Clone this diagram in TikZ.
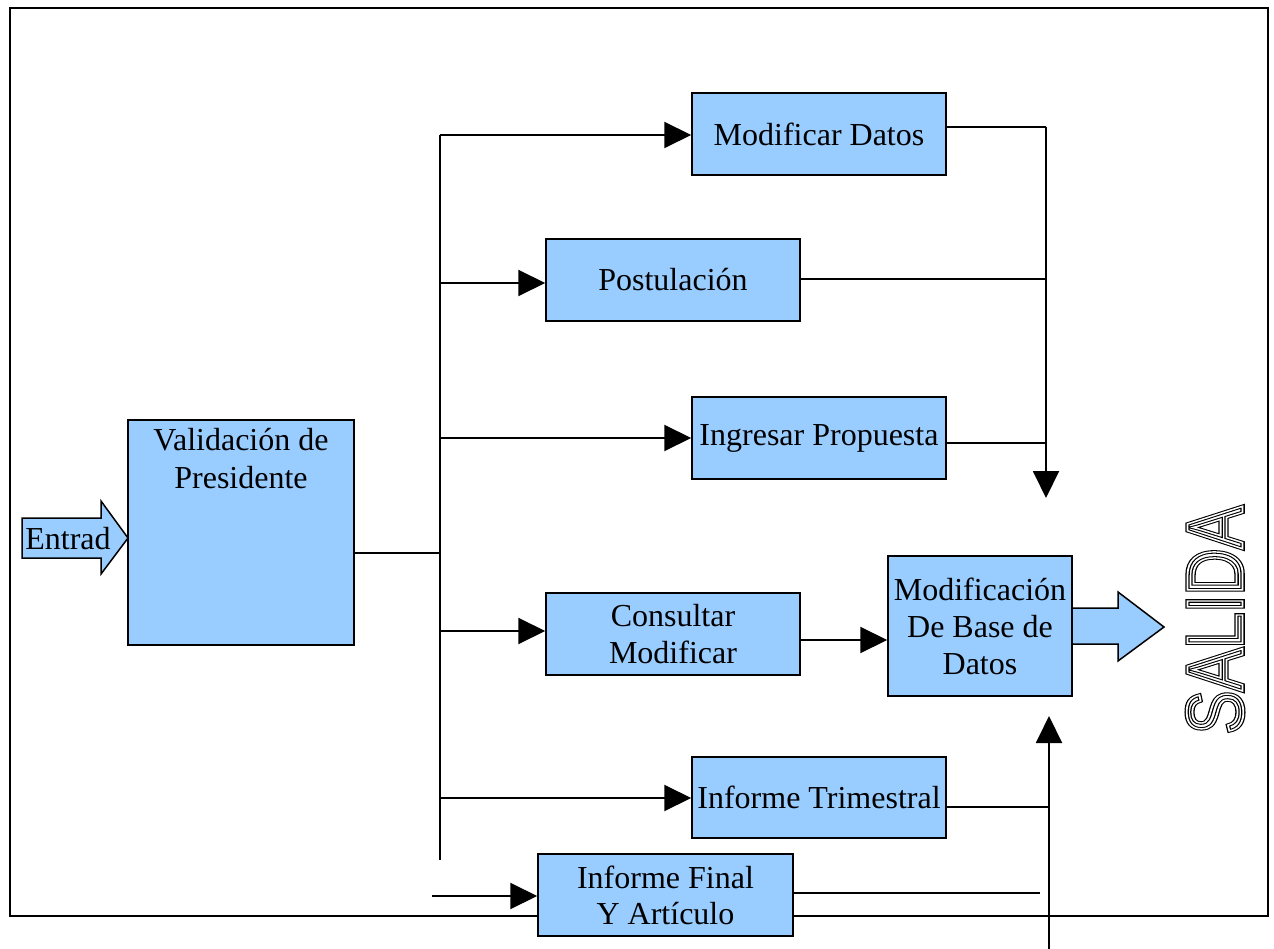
\documentclass[tikz,border=0pt]{standalone}
\usepackage{fontspec}
\setmainfont{Liberation Serif}
\setsansfont{Liberation Sans}
\usetikzlibrary{arrows.meta}
\definecolor{boxblue}{HTML}{99CCFF}
\tikzset{
  blk/.style={draw=black, fill=boxblue, line width=1.5pt, inner sep=0pt,
    align=center, font=\fontsize{32}{37}\selectfont},
  wire/.style={line width=2pt},
  arr/.style={wire, -{Triangle[length=27pt,width=26pt]}},
  fat/.style={draw=black, fill=boxblue, line width=1.5pt, line join=miter},
}
% outlined lettering: stroke only, given width
\newcommand{\strokedtext}[2]{\special{pdf:literal direct 1 Tr #1 w}#2\special{pdf:literal direct 0 Tr}}
\begin{document}
\begin{tikzpicture}[x=1pt, y=-1pt]
\useasboundingbox (0,0) rectangle (1274,949);
% outer frame
\draw[line width=1.5pt] (10,8) rectangle (1268,916);

% entry arrow
\filldraw[fat] (22,518) -- (101,518) -- (101,501) -- (128,538) -- (101,574)
  -- (101,558) -- (22,558) -- cycle;
\node[font=\fontsize{32}{37}\selectfont] (entrada) at (68,539) {Entrad};

% output arrow (drawn before the box it leaves)
\filldraw[fat] (1070,608) -- (1118,608) -- (1118,592) -- (1164,627) -- (1118,661)
  -- (1118,644) -- (1070,644) -- cycle;

% boxes
\node[blk, minimum width=226pt, minimum height=225pt] (val) at (241,532.5) {};
\node[font=\fontsize{32}{38}\selectfont, align=center, anchor=north] (valtxt)
  at (241,425) {Validación de\\Presidente};
\node[blk, minimum width=254pt, minimum height=82pt] (md) at (819,134) {Modificar Datos};
\node[blk, minimum width=254pt, minimum height=82pt] (post) at (673,280) {Postulación};
\node[blk, minimum width=254pt, minimum height=82pt] (ing) at (819,438) {Ingresar Propuesta};
\node[blk, minimum width=254pt, minimum height=82pt] (cons) at (673,634) {Consultar\\Modificar};
\node[blk, minimum width=184pt, minimum height=140pt] (mbd) at (980,626) {Modificación\\De Base de\\Datos};
\node[blk, minimum width=254pt, minimum height=81pt] (trim) at (819,797.5) {Informe Trimestral};
\node[blk, minimum width=255pt, minimum height=82pt, font=\fontsize{32}{36}\selectfont]
  (fin) at (665.5,895) {Informe Final\\Y Artículo};

% distribution trunk
\coordinate (ttop) at (440,135);
\coordinate (tbot) at (440,860);
\coordinate (tin) at (440,553);
\draw[wire] (ttop) -- (tbot);
\draw[wire] (val.east |- tin) -- (tin);
\coordinate (t2) at (440,283);
\coordinate (t3) at (440,438);
\coordinate (t4) at (440,631);
\coordinate (t5) at (440,798);
\coordinate (t6) at (432,896);
\draw[arr] (ttop) -- (ttop -| md.west);
\draw[arr] (t2) -- (t2 -| post.west);
\draw[arr] (t3) -- (t3 -| ing.west);
\draw[arr] (t4) -- (t4 -| cons.west);
\draw[arr] (t5) -- (t5 -| trim.west);
\draw[arr] (t6) -- (t6 -| fin.west);

% upper collector
\coordinate (c1) at (1046,127);
\coordinate (c2) at (1046,279);
\coordinate (c3) at (1046,443);
\coordinate (cdown) at (1046,498);
\draw[wire] (md.east |- c1) -- (c1);
\draw[wire] (post.east |- c2) -- (c2);
\draw[wire] (ing.east |- c3) -- (c3);
\draw[arr] (c1) -- (cdown);

% query to database update
\coordinate (q) at (800,640);
\draw[arr] (q) -- (q -| mbd.west);

% lower collector
\coordinate (l0) at (1049,949);
\coordinate (lup) at (1049,716);
\coordinate (l1) at (1049,807);
\coordinate (l2) at (1040,893);
\draw[arr] (l0) -- (lup);
\draw[wire] (trim.east |- l1) -- (l1);
\draw[wire] (fin.east |- l2) -- (l2);

% outlined output label
\node[rotate=90, font=\sffamily\fontsize{80}{80}\selectfont, inner sep=0pt] (salida)
  at (1215,620) {\scalebox{0.8}[1]{\strokedtext{4.4}{SALIDA}}};
\node[rotate=90, font=\sffamily\fontsize{80}{80}\selectfont, inner sep=0pt, text=white] (salidain)
  at (1215,620) {\scalebox{0.8}[1]{\strokedtext{1.8}{SALIDA}}};
\end{tikzpicture}
\end{document}
